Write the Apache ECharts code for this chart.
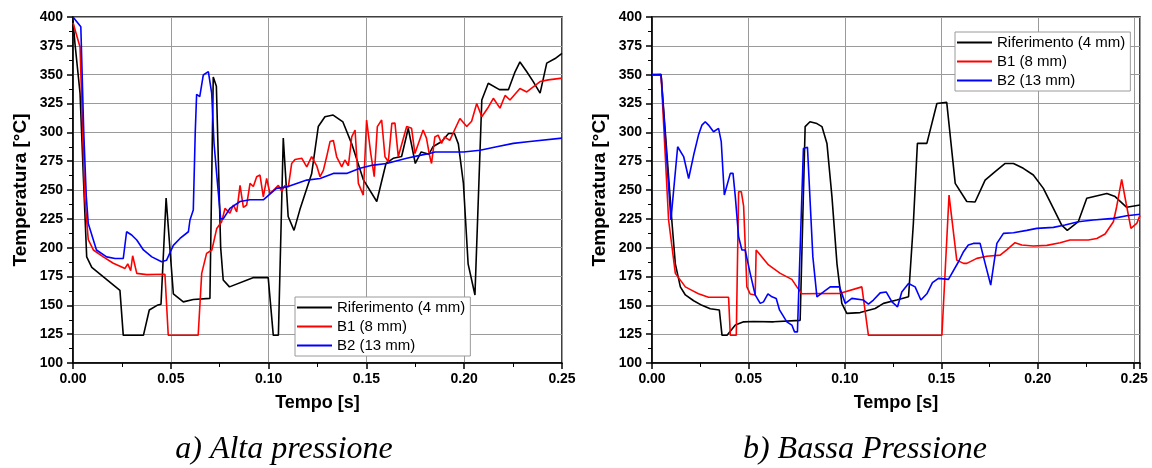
<!DOCTYPE html>
<html>
<head>
<meta charset="utf-8">
<script src="https://cdn.jsdelivr.net/npm/echarts@6/dist/echarts.min.js"></script>
<style>
html,body{margin:0;padding:0;background:#fff;}
#c{width:1152px;height:468px;}
</style>
</head>
<body>
<div id="c"></div>
<script>
// ---- Data ----
const seriesNames = ['Riferimento (4 mm)', 'B1 (8 mm)', 'B2 (13 mm)'];
const captions = ['a) Alta pressione', 'b) Bassa Pressione'];
const xTicks = [0, 0.05, 0.10, 0.15, 0.20, 0.25];
const yTicks = [100, 125, 150, 175, 200, 225, 250, 275, 300, 325, 350, 375, 400];

// a) Alta pressione
const aRefT = [0, 0.001, 0.0036, 0.0053, 0.007, 0.0096, 0.024, 0.0257, 0.036, 0.039, 0.043, 0.045, 0.0476, 0.0513, 0.0564, 0.0615, 0.070, 0.0717, 0.0733, 0.0755, 0.0768, 0.080, 0.092, 0.0998, 0.1024, 0.105, 0.1075, 0.110, 0.113, 0.116, 0.122, 0.1254, 0.1288, 0.133, 0.138, 0.1425, 0.1484, 0.1553, 0.160, 0.1637, 0.168, 0.1714, 0.175, 0.178, 0.182, 0.184, 0.1885, 0.192, 0.195, 0.197, 0.1996, 0.202, 0.2055, 0.209, 0.2123, 0.218, 0.2226, 0.226, 0.2285, 0.232, 0.2353, 0.2388, 0.2422, 0.2465, 0.25];
const aRefV = [397, 377, 334, 261.5, 192, 183, 163, 124, 124, 146, 150, 151, 243, 160, 153, 155, 156, 348, 340, 200, 172, 166, 174, 174, 124, 124, 295, 227, 215, 233, 264, 305, 313.5, 315, 309, 290, 259, 240, 273, 277.5, 279, 303.5, 273, 283, 281, 287.5, 292, 299, 299, 290, 255.7, 186, 159, 328, 342.5, 337, 337, 352.5, 361, 352.5, 344, 334, 360, 364, 368.5];

const aB1T = [0, 0.0036, 0.006, 0.0078, 0.0104, 0.0155, 0.0206, 0.0266, 0.028, 0.0295, 0.0305, 0.0326, 0.0377, 0.047, 0.0487, 0.064, 0.0658, 0.0683, 0.071, 0.0735, 0.076, 0.0777, 0.0785, 0.0802, 0.082, 0.0837, 0.0854, 0.0871, 0.0888, 0.0905, 0.0922, 0.0939, 0.0956, 0.0973, 0.099, 0.1007, 0.1032, 0.105, 0.1067, 0.1084, 0.1101, 0.1118, 0.1135, 0.117, 0.1195, 0.122, 0.1246, 0.1263, 0.128, 0.1297, 0.1314, 0.1331, 0.1348, 0.1374, 0.139, 0.1408, 0.1425, 0.1442, 0.1459, 0.1484, 0.1501, 0.1522, 0.154, 0.1556, 0.1578, 0.1595, 0.1612, 0.163, 0.1646, 0.1663, 0.1706, 0.1731, 0.1748, 0.179, 0.1807, 0.1824, 0.1833, 0.185, 0.1867, 0.1884, 0.19, 0.1926, 0.1978, 0.2013, 0.2038, 0.2064, 0.209, 0.2124, 0.2149, 0.2183, 0.2209, 0.2234, 0.2285, 0.232, 0.2388, 0.243, 0.25];
const aB1V = [395, 374, 244, 207, 198, 192, 186.5, 182, 186, 180, 193, 177.7, 176.6, 177, 124, 124, 177.7, 195, 198, 216.7, 222.5, 234, 235, 230, 237, 231, 254, 235, 237, 255.8, 253, 261.5, 263, 244, 260, 247, 251, 254, 249, 254, 252.7, 273, 276.5, 277.5, 270, 279, 271, 261.5, 267, 279, 292, 293, 278.8, 270, 276, 271, 296, 302, 255.7, 245.6, 310.7, 282, 261.5, 305, 310.7, 278.8, 274.5, 307.8, 308, 279, 305, 303.5, 281.6, 302, 295, 279, 273, 296, 297.6, 290.4, 296, 293, 312, 305, 309.6, 325, 313.5, 322, 329.5, 321, 332, 328, 338, 335, 344, 345.5, 347];

const aB2T = [0, 0.004, 0.0055, 0.0068, 0.0078, 0.012, 0.0172, 0.0215, 0.0257, 0.0274, 0.030, 0.0326, 0.036, 0.0403, 0.0453, 0.0478, 0.0513, 0.0547, 0.059, 0.0598, 0.0615, 0.0625, 0.0632, 0.0648, 0.0666, 0.0692, 0.0709, 0.0721, 0.0738, 0.0755, 0.0768, 0.0802, 0.0854, 0.0905, 0.0973, 0.104, 0.1092, 0.1195, 0.1263, 0.1331, 0.1399, 0.1467, 0.1535, 0.1604, 0.1637, 0.1706, 0.1773, 0.1824, 0.185, 0.1996, 0.2081, 0.2166, 0.2251, 0.2336, 0.25];
const aB2V = [400, 391.6, 300, 244, 221, 198, 192, 190.6, 190.6, 213.8, 211, 206.6, 198, 192, 187.8, 189, 202, 208, 213.8, 224, 232.6, 300, 333, 331, 349.7, 352.6, 334, 290.5, 257, 225, 225, 234, 240, 241.5, 241.5, 251.4, 252.7, 258.6, 260, 264.4, 264.4, 268.8, 271.6, 273, 274.5, 277.5, 280, 281.6, 283, 283, 284.5, 287.5, 290.4, 292, 295];

// b) Bassa Pressione
const bRefT = [0, 0.0047, 0.0104, 0.0121, 0.0147, 0.0173, 0.0216, 0.0259, 0.0302, 0.0349, 0.0363, 0.0389, 0.0432, 0.0475, 0.0526, 0.063, 0.0768, 0.0794, 0.0819, 0.0855, 0.0881, 0.0907, 0.0933, 0.0959, 0.0984, 0.101, 0.1079, 0.1157, 0.12, 0.1269, 0.133, 0.1355, 0.1376, 0.1425, 0.1477, 0.1528, 0.1572, 0.1632, 0.1675, 0.1727, 0.1779, 0.1831, 0.1874, 0.1925, 0.1977, 0.2029, 0.2081, 0.2124, 0.2153, 0.221, 0.2254, 0.2358, 0.2401, 0.2461, 0.253];
const bRefV = [349.7, 350, 221, 186, 166, 159, 154, 150, 147, 146, 124, 124, 133, 135.7, 136, 135.7, 137, 305, 309.2, 307.6, 305, 290.4, 244, 186, 151.7, 143, 143.7, 147.3, 151.7, 154.6, 157.4, 221, 290.4, 290.4, 325, 326, 255.7, 240, 239.6, 258.6, 266, 273, 273, 268.8, 263, 251.4, 234, 219.6, 215, 222.5, 242.8, 247, 244.3, 235, 237];

const bB1T = [0, 0.0047, 0.0086, 0.0121, 0.0173, 0.0207, 0.0241, 0.0293, 0.0397, 0.0406, 0.0437, 0.0449, 0.0463, 0.0475, 0.0492, 0.0509, 0.0535, 0.054, 0.0604, 0.0665, 0.0725, 0.0751, 0.0777, 0.0976, 0.1088, 0.1122, 0.1503, 0.154, 0.158, 0.1615, 0.1632, 0.1684, 0.1736, 0.1805, 0.1839, 0.1882, 0.1917, 0.1977, 0.2047, 0.2116, 0.2167, 0.2262, 0.2306, 0.2349, 0.2392, 0.2409, 0.2435, 0.2458, 0.2483, 0.2513, 0.253];
const bB1V = [350, 350, 224, 177.7, 166, 163, 160, 157, 157, 124, 124, 248.5, 248.5, 236, 166, 159.8, 159, 198, 185, 177.7, 172.5, 166, 160, 160.4, 166, 124, 124, 245.6, 189.2, 186.4, 186.4, 190.7, 192.6, 193.5, 198, 204.3, 202.3, 201.5, 202, 204.3, 206.6, 206.6, 208, 211.8, 222.5, 235.5, 259.3, 238.5, 216.7, 221, 228];

const bB2T = [0, 0.0047, 0.0098, 0.0133, 0.0164, 0.019, 0.0216, 0.0241, 0.0259, 0.0276, 0.0293, 0.0319, 0.0345, 0.0359, 0.0375, 0.0406, 0.042, 0.0432, 0.0449, 0.0466, 0.0483, 0.0509, 0.0535, 0.0561, 0.0578, 0.0601, 0.0622, 0.0644, 0.0661, 0.0699, 0.0725, 0.0739, 0.0754, 0.0785, 0.0806, 0.0834, 0.0855, 0.0889, 0.0924, 0.0972, 0.1002, 0.1036, 0.1096, 0.1122, 0.1148, 0.1183, 0.1214, 0.1244, 0.1273, 0.1295, 0.133, 0.1364, 0.1394, 0.1425, 0.1454, 0.1485, 0.1537, 0.1589, 0.1615, 0.164, 0.1666, 0.1701, 0.1727, 0.1756, 0.1788, 0.1822, 0.1874, 0.1943, 0.1995, 0.2081, 0.2141, 0.221, 0.2288, 0.2392, 0.2461, 0.253];
const bB2V = [350, 350, 224, 287.5, 279, 260, 280.3, 297.6, 306.3, 309.2, 306.3, 300.5, 303.5, 291.9, 245.6, 264.4, 264.4, 244, 209.5, 198, 198, 177.7, 159, 151.7, 153, 160, 157.4, 156, 146, 135.7, 132.9, 127, 127, 286, 287, 192, 157.4, 161.6, 166, 166, 151.7, 156, 154.6, 151, 154.6, 160.8, 161.6, 153, 148.7, 161.6, 169, 166, 154.6, 160, 169.6, 173.4, 172.5, 187.8, 196.5, 202.3, 203.7, 203.7, 186.4, 167.6, 203.7, 212.4, 213, 215, 216.7, 217.6, 219.6, 222.5, 224, 225.4, 227.7, 229];

// ---- Build chart ----
const zip = (t, v) => t.map((x, i) => [x, v[i]]);
const colors = ['#000000', '#ff0000', '#0000ff'];
const FONT = '"Liberation Sans", Arial, sans-serif';

function xAxisCfg(gi, max) {
  return {
    gridIndex: gi, type: 'value', min: 0, max: max, interval: 0.05,
    name: 'Tempo [s]', nameLocation: 'middle', nameGap: 31,
    nameTextStyle: {fontFamily: FONT, fontWeight: 'bold', fontSize: 18, color: '#000'},
    axisLine: {show: true, onZero: false, lineStyle: {color: '#000', width: 1.5}},
    axisTick: {show: true, inside: false, length: 6, lineStyle: {color: '#000', width: 1.5}},
    minorTick: {show: true, splitNumber: 2, length: 4, lineStyle: {color: '#000', width: 1}},
    axisLabel: {
      fontFamily: FONT, fontWeight: 'bold', fontSize: 14, color: '#000', margin: 9,
      showMaxLabel: true,
      formatter: function (v) {
        const k = v / 0.05;
        if (Math.abs(k - Math.round(k)) > 1e-6) return '';
        return v.toFixed(2);
      }
    },
    splitLine: {show: true, lineStyle: {color: '#9a9a9a', width: 1}}
  };
}
function yAxisCfg(gi) {
  return {
    gridIndex: gi, type: 'value', min: yTicks[0], max: yTicks[yTicks.length - 1], interval: 25,
    name: 'Temperatura [°C]', nameLocation: 'middle', nameGap: 43, nameRotate: 90,
    nameTextStyle: {fontFamily: FONT, fontWeight: 'bold', fontSize: 19, color: '#000'},
    axisLine: {show: true, onZero: false, lineStyle: {color: '#000', width: 1.5}},
    axisTick: {show: true, inside: false, length: 6, lineStyle: {color: '#000', width: 1.5}},
    minorTick: {show: true, splitNumber: 2, length: 4, lineStyle: {color: '#000', width: 1}},
    axisLabel: {fontFamily: FONT, fontWeight: 'bold', fontSize: 14, color: '#000', margin: 10},
    splitLine: {show: true, lineStyle: {color: '#9a9a9a', width: 1}}
  };
}
function lineSeries(name, data, idx, color) {
  return {
    name: name, type: 'line', xAxisIndex: idx, yAxisIndex: idx,
    data: data, symbol: 'none', showSymbol: false, smooth: false,
    lineStyle: {color: color, width: 1.6}, itemStyle: {color: color},
    emphasis: {disabled: true}, animation: false
  };
}
function legendCfg(left, top) {
  return {
    orient: 'vertical', left: left, top: top, data: seriesNames,
    icon: 'rect',
    backgroundColor: '#fff', borderColor: '#9a9a9a', borderWidth: 1, borderRadius: 0,
    padding: [3, 5, 3, 2], itemWidth: 35, itemHeight: 2, itemGap: 4, itemTextGap: 4,
    textStyle: {fontFamily: FONT, fontSize: 15, color: '#000', lineHeight: 15},
    selectedMode: false
  };
}

const chart = echarts.init(document.getElementById('c'), null, {renderer: 'canvas'});
chart.setOption({
  animation: false,
  backgroundColor: '#fff',
  grid: [
    {left: 73, top: 17, width: 489, height: 346, show: true, borderColor: '#000', borderWidth: 1.5, backgroundColor: 'transparent', containLabel: false},
    {left: 652, top: 17, width: 488, height: 346, show: true, borderColor: '#000', borderWidth: 1.5, backgroundColor: 'transparent', containLabel: false}
  ],
  xAxis: [xAxisCfg(0, xTicks[xTicks.length - 1]), xAxisCfg(1, 0.253)],
  yAxis: [yAxisCfg(0), yAxisCfg(1)],
  legend: [legendCfg(295, 297), legendCfg(955, 32)],
  series: [
    lineSeries(seriesNames[0], zip(aRefT, aRefV), 0, colors[0]),
    lineSeries(seriesNames[1], zip(aB1T, aB1V), 0, colors[1]),
    lineSeries(seriesNames[2], zip(aB2T, aB2V), 0, colors[2]),
    lineSeries(seriesNames[0], zip(bRefT, bRefV), 1, colors[0]),
    lineSeries(seriesNames[1], zip(bB1T, bB1V), 1, colors[1]),
    lineSeries(seriesNames[2], zip(bB2T, bB2V), 1, colors[2])
  ],
  graphic: [
    {type: 'text', x: 284, y: 450, style: {text: captions[0], font: 'italic 32px "Liberation Serif", "Times New Roman", serif', fill: '#000', textAlign: 'center', textVerticalAlign: 'middle'}},
    {type: 'text', x: 865, y: 450, style: {text: captions[1], font: 'italic 32px "Liberation Serif", "Times New Roman", serif', fill: '#000', textAlign: 'center', textVerticalAlign: 'middle'}}
  ]
});
</script>
</body>
</html>
